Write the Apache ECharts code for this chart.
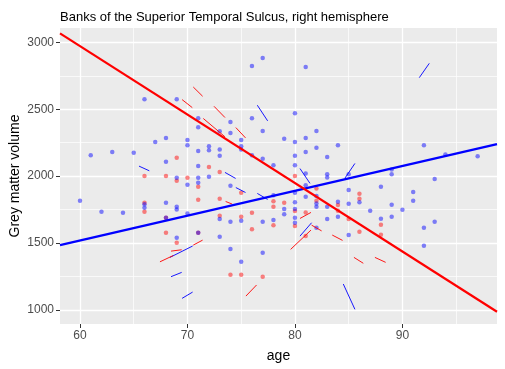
<!DOCTYPE html>
<html>
<head>
<meta charset="utf-8">
<script src="https://cdn.jsdelivr.net/npm/echarts@6/dist/echarts.min.js"></script>
<style>
  html, body { margin: 0; padding: 0; background: #fff; }
  #main { width: 505px; height: 369px; }
</style>
</head>
<body>
<div id="main"></div>
<script>
// axis ranges (ggplot expanded panel)
var xMin = 58.14, xMax = 98.8;
var yMin = 895.4, yMax = 3107;
var xTicks = [60, 70, 80, 90];
var xMinor = [65, 75, 85, 95];
var yTicks = [1000, 1500, 2000, 2500, 3000];
var yMinor = [1250, 1750, 2250, 2750];

// [age, volume]
var bluePts = [
  [66,2575],[69,2575],[71,2433],[71,2366],[67,2256],[68,2286],[70,2271],[70,2231],[61,2157],[63,2181],
  [65,2175],[68,2107],[71,2188],[72,2224],[72,2194],[71,2076],
  [77,2883],[76,2823],[81,2816],[80,2470],[74,2405],[76,2433],[74,2323],[77,2338],[82,2338],[75,2271],
  [79,2279],[80,2256],[81,2286],[84,2231],[73,2199],[75,2224],[75,2199],[73,2152],[76,2157],[82,2212],
  [83,2144],[80,2152],[81,2181],[77,2130],[78,2082],[80,2082],[73,2336],
  [92,2231],[94,2162],[97,2149],
  [69,1989],[71,1989],[72,1996],[70,1936],[71,1951],[60,1816],[62,1734],[64,1726],[66,1791],[66,1764],
  [68,1801],[69,1772],[69,1751],[70,1721],[68,1689],[71,1577],[69,1540],
  [74,1928],[73,1679],[74,1659],[75,1667],[77,1659],[78,1858],[78,1672],[79,1754],[79,1716],[80,1876],
  [80,1806],[80,1754],[80,1689],[80,1652],[81,2020],[81,1933],[81,1846],[82,1851],[82,1796],[82,1771],
  [82,1614],[83,2015],[83,1990],[83,1771],[83,1679],[84,1809],[84,1697],[85,1896],[85,1560],[74,1455],
  [77,1428],[75,1361],[73,1548],
  [85,2015],[89,2050],[89,2015],[93,1978],[88,1921],[86,1806],[85,1794],[91,1881],[91,1816],[89,1787],
  [87,1741],[90,1749],[88,1682],[89,1697],[93,1659],[92,1614],[92,1480]
];
var redPts = [
  [69,2137],[72,2069],[66,2002],[68,2002],[69,1966],[70,1989],[71,1921],[66,1801],[66,1734],[71,1824],
  [68,1689],[68,1577],[71,1577],[69,1503],
  [73,2032],[75,1876],[73,1831],[73,1704],[75,1697],[76,1726],[76,1604],[78,1813],[78,1771],[78,1634],
  [79,1801],[80,2002],[80,1739],[80,1627],[81,1729],[81,1552],[82,1908],[82,1816],[84,1784],[84,1741],
  [85,1679],[74,1264],[75,1264],[77,1249],
  [86,1869],[86,1831],[88,1637],[86,1584],[88,1563]
];

// short segments: [age1, vol1, age2, vol2]
var blueSegs = [
  [65.49,2075,66.45,2040],[76.5,2530,77.46,2413],[91.57,2736,92.5,2843],[68.37,1393,70.48,1478],
  [68.47,1249,69.46,1281],[69.5,1087,70.48,1134],[73.49,2028,74.48,1983],[74.5,1915,75.4,1878],
  [76.5,1871,77.46,1826],[80.47,2057,81.4,1946],[80.47,1552,81.55,1652],[84.5,1194,85.58,1005],
  [84.65,1985,85.58,2095]
];
var redSegs = [
  [70.54,2666,71.41,2597],[69.5,2572,70.45,2512],[71.47,2431,73.49,2294],[72.47,2522,73.49,2438],
  [74.5,2363,75.4,2286],[73.55,1811,74.17,1791],[67.44,1360,68.68,1407],[68.47,1440,69.46,1450],
  [70.54,1485,71.41,1522],[79.6,1453,81.49,1597],[80.47,1684,81.49,1729],[81.55,1634,82.48,1591],
  [83.47,1560,84.43,1520],[75.44,1104,76.43,1187],[85.49,1393,86.36,1349],[87.44,1393,88.44,1356]
];

// fitted lines at panel edges
var fitAges = [58.14, 98.8];
var blueFit = [1485, 2239];
var redFit = [3067, 987];

function toLines(segs) {
  return segs.map(function (s) { return { coords: [[s[0], s[1]], [s[2], s[3]]] }; });
}
function toFit(vals) {
  return fitAges.map(function (a, i) { return [a, vals[i]]; });
}
function plain(v) { return String(v); }

var font = 'Liberation Sans, Arial, sans-serif';
var chart = echarts.init(document.getElementById('main'));
var option = {
  animation: false,
  title: {
    text: 'Banks of the Superior Temporal Sulcus, right hemisphere',
    left: 55, top: 6,
    textStyle: { fontFamily: font, fontSize: 13, fontWeight: 'normal', color: '#000' }
  },
  grid: {
    left: 60, right: 8, top: 28, bottom: 45,
    show: true, backgroundColor: '#EBEBEB', borderWidth: 0,
    containLabel: false, outerBoundsMode: 'none'
  },
  xAxis: [{
    type: 'value', min: xMin, max: xMax,
    name: 'age', nameLocation: 'middle', nameGap: 25, nameMoveOverlap: false,
    nameTextStyle: { fontFamily: font, fontSize: 14, color: '#000' },
    axisLine: { show: false },
    axisTick: { customValues: xTicks, length: 4, lineStyle: { color: '#333' } },
    axisLabel: { customValues: xTicks, formatter: plain, fontFamily: font, fontSize: 12, color: '#4D4D4D', margin: 6 },
    splitLine: { lineStyle: { color: '#fff', width: 1.3 } }
  }, {
    type: 'value', min: xMin, max: xMax,
    axisLine: { show: false },
    axisTick: { show: false, customValues: xMinor },
    axisLabel: { show: false, customValues: xMinor },
    splitLine: { lineStyle: { color: '#fff', width: 0.7 } }
  }],
  yAxis: [{
    type: 'value', min: yMin, max: yMax,
    name: 'Grey matter volume', nameLocation: 'middle', nameGap: 38, nameRotate: 90, nameMoveOverlap: false,
    nameTextStyle: { fontFamily: font, fontSize: 14, color: '#000' },
    axisLine: { show: false },
    axisTick: { customValues: yTicks, length: 4, lineStyle: { color: '#333' } },
    axisLabel: { customValues: yTicks, formatter: plain, fontFamily: font, fontSize: 12, color: '#4D4D4D', margin: 6 },
    splitLine: { lineStyle: { color: '#fff', width: 1.3 } }
  }, {
    type: 'value', min: yMin, max: yMax,
    axisLine: { show: false },
    axisTick: { show: false, customValues: yMinor },
    axisLabel: { show: false, customValues: yMinor },
    splitLine: { lineStyle: { color: '#fff', width: 0.7 } }
  }],
  series: [
    { type: 'scatter', data: redPts, symbolSize: 4.5, itemStyle: { color: 'rgba(255,0,0,0.6)' }, z: 2 },
    { type: 'scatter', data: bluePts, symbolSize: 4.5, itemStyle: { color: 'rgba(0,0,255,0.6)' }, z: 2 },
    { type: 'lines', coordinateSystem: 'cartesian2d', data: toLines(blueSegs),
      lineStyle: { color: '#0000FF', width: 0.9, opacity: 1 }, z: 3 },
    { type: 'lines', coordinateSystem: 'cartesian2d', data: toLines(redSegs),
      lineStyle: { color: '#FF0000', width: 0.9, opacity: 1 }, z: 3 },
    { type: 'line', data: toFit(blueFit), showSymbol: false, lineStyle: { color: '#0000FF', width: 2.2 }, z: 4 },
    { type: 'line', data: toFit(redFit), showSymbol: false, lineStyle: { color: '#FF0000', width: 2.2 }, z: 5 }
  ]
};
chart.setOption(option);
</script>
</body>
</html>
